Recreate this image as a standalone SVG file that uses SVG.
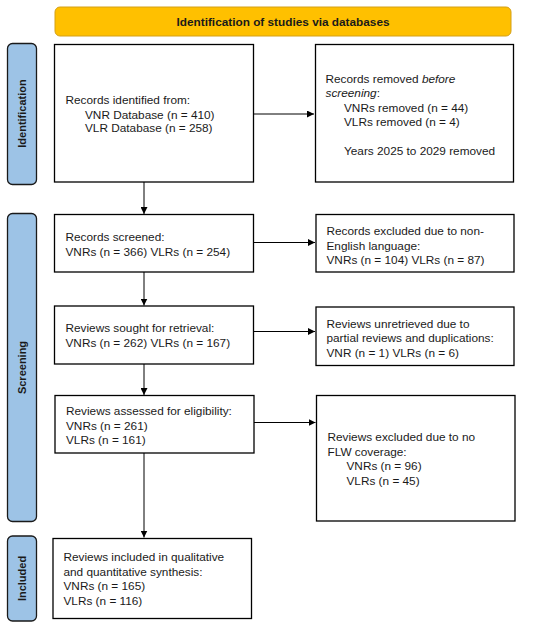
<svg xmlns="http://www.w3.org/2000/svg" width="550" height="627" viewBox="0 0 550 627">
<defs>
<marker id="ah" viewBox="0 0 10 10" refX="10" refY="5" markerWidth="7" markerHeight="7" markerUnits="userSpaceOnUse" orient="auto">
<path d="M0,0 L10,5 L0,10 z" fill="#000"/>
</marker>
<style>
.box{fill:#fff;stroke:#000;stroke-width:1.3}
.side{fill:#9DC3E6;stroke:#1a1a1a;stroke-width:1.3}
.ban{fill:#FFC000;stroke:#D4A017;stroke-width:1}
.t{font-family:"Liberation Sans",Arial,sans-serif;font-size:11.8px;fill:#1a1a1a}
.b{font-family:"Liberation Sans",Arial,sans-serif;font-size:11px;font-weight:bold;fill:#1a1a1a}
.bb{font-family:"Liberation Sans",Arial,sans-serif;font-size:11.8px;font-weight:bold;fill:#1a1a1a}
.c{stroke:#000;stroke-width:1;fill:none;marker-end:url(#ah)}
</style>
</defs>
<rect width="550" height="627" fill="#fff"/>
<g id="banner">
<rect class="ban" x="55" y="7" width="456" height="29" rx="5"/>
<text class="bb" x="283" y="26" text-anchor="middle">Identification of studies via databases</text>
</g>
<g id="label-identification">
<rect class="side" x="7.5" y="43.5" width="29" height="141" rx="5"/>
<text class="b" transform="translate(25.5,113.5) rotate(-90)" text-anchor="middle">Identification</text>
</g>
<g id="label-screening">
<rect class="side" x="7.5" y="213.5" width="29" height="308" rx="5"/>
<text class="b" transform="translate(25.5,367.5) rotate(-90)" text-anchor="middle">Screening</text>
</g>
<g id="label-included">
<rect class="side" x="7.5" y="536" width="29" height="85" rx="5"/>
<text class="b" transform="translate(25.5,578.5) rotate(-90)" text-anchor="middle">Included</text>
</g>
<g id="records-identified">
<rect class="box" x="54.5" y="44.5" width="199" height="137.5"/>
<text class="t" x="65.5" y="104">Records identified from:</text>
<text class="t" x="85" y="118.5">VNR Database (n = 410)</text>
<text class="t" x="85" y="132">VLR Database (n = 258)</text>
</g>
<g id="records-removed">
<rect class="box" x="315.5" y="44.5" width="198" height="137.5"/>
<text class="t" x="325.5" y="82.5">Records removed <tspan font-style="italic">before</tspan></text>
<text class="t" x="325.5" y="96.5"><tspan font-style="italic">screening</tspan>:</text>
<text class="t" x="344" y="111.5">VNRs removed (n = 44)</text>
<text class="t" x="344" y="126">VLRs removed (n = 4)</text>
<text class="t" x="344" y="155">Years 2025 to 2029 removed</text>
</g>
<g id="records-screened">
<rect class="box" x="54.5" y="214.5" width="199" height="57.5"/>
<text class="t" x="65.5" y="240.5">Records screened:</text>
<text class="t" x="65.5" y="255.5">VNRs (n = 366) VLRs (n = 254)</text>
</g>
<g id="records-excluded">
<rect class="box" x="316" y="214.5" width="198" height="57.5"/>
<text class="t" x="326.5" y="235">Records excluded due to non-</text>
<text class="t" x="326.5" y="249.5">English language:</text>
<text class="t" x="326.5" y="264">VNRs (n = 104) VLRs (n = 87)</text>
</g>
<g id="reviews-sought">
<rect class="box" x="54.5" y="306" width="199" height="58"/>
<text class="t" x="65.5" y="332">Reviews sought for retrieval:</text>
<text class="t" x="65.5" y="347">VNRs (n = 262) VLRs (n = 167)</text>
</g>
<g id="reviews-unretrieved">
<rect class="box" x="316" y="307" width="198" height="58.5"/>
<text class="t" x="326.5" y="327.5">Reviews unretrieved due to</text>
<text class="t" x="326.5" y="342">partial reviews and duplications:</text>
<text class="t" x="326.5" y="356.5">VNR (n = 1) VLRs (n = 6)</text>
</g>
<g id="reviews-assessed">
<rect class="box" x="55" y="395.5" width="199" height="57.5"/>
<text class="t" x="66" y="415">Reviews assessed for eligibility:</text>
<text class="t" x="66" y="429.5">VNRs (n = 261)</text>
<text class="t" x="66" y="444">VLRs (n = 161)</text>
</g>
<g id="reviews-excluded">
<rect class="box" x="316.5" y="395.5" width="198.5" height="125.5"/>
<text class="t" x="327.5" y="441">Reviews excluded due to no</text>
<text class="t" x="327.5" y="455.5">FLW coverage:</text>
<text class="t" x="346.5" y="470">VNRs (n = 96)</text>
<text class="t" x="346.5" y="484.5">VLRs (n = 45)</text>
</g>
<g id="reviews-included">
<rect class="box" x="53" y="538.5" width="198.5" height="80"/>
<text class="t" x="63.5" y="561">Reviews included in qualitative</text>
<text class="t" x="63.5" y="575.5">and quantitative synthesis:</text>
<text class="t" x="63.5" y="590">VNRs (n = 165)</text>
<text class="t" x="63.5" y="604.5">VLRs (n = 116)</text>
</g>
<g id="connectors">
<line class="c" x1="253.5" y1="114" x2="314" y2="114"/>
<line class="c" x1="144" y1="182" x2="144" y2="214"/>
<line class="c" x1="253.5" y1="242.5" x2="315" y2="242.5"/>
<line class="c" x1="144" y1="272" x2="144" y2="305.5"/>
<line class="c" x1="253.5" y1="331.5" x2="315" y2="331.5"/>
<line class="c" x1="144" y1="364" x2="144" y2="395"/>
<line class="c" x1="254" y1="422.5" x2="315.5" y2="422.5"/>
<line class="c" x1="144" y1="453" x2="144" y2="537.5"/>
</g>
</svg>
